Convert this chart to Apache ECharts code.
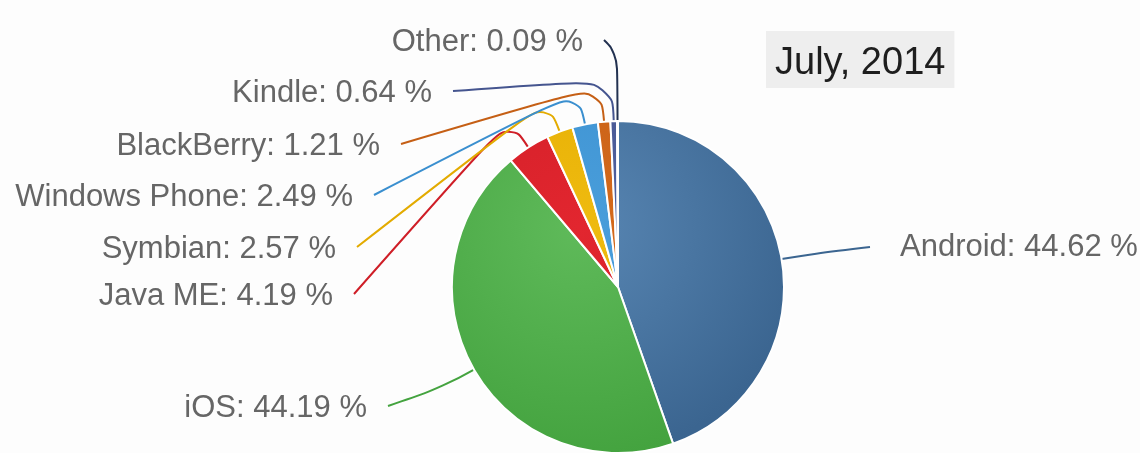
<!DOCTYPE html>
<html>
<head>
<meta charset="utf-8">
<script src="https://cdn.jsdelivr.net/npm/echarts@6/dist/echarts.min.js"></script>
<style>
  html, body { margin: 0; padding: 0; background: #fdfdfd; }
  #chart { width: 1140px; height: 453px; }
</style>
</head>
<body>
<div id="chart"></div>
<script>
// ---- data ----
const categories = ['Android', 'iOS', 'Java ME', 'Symbian', 'Windows Phone', 'BlackBerry', 'Kindle', 'Other'];
const shares = [44.62, 44.19, 4.19, 2.57, 2.49, 1.21, 0.64, 0.09];
const titleText = 'July, 2014';

// ---- styles / layout ----
const sliceColors = [
  ['#5886b3', '#3b6590'],
  ['#5fba5a', '#44a33f'],
  ['#e2262f', '#cf1e27'],
  ['#efbb10', '#e3ab00'],
  ['#4a9edb', '#3a8fcf'],
  ['#d56a1c', '#c55f15'],
  ['#50609f', '#45558f'],
  ['#2a3b60', '#223150']
];
const CX = 618, CY = 287, R = 166;
// label anchor: [x, y, align]
const labelSpots = [
  [900, 247, 'left'],
  [367, 408, 'right'],
  [333, 296, 'right'],
  [336, 249, 'right'],
  [353, 197, 'right'],
  [380, 146, 'right'],
  [432, 93, 'right'],
  [583, 42, 'right']
];
const elbowLens = [35, 35, 35, 35, 35, 37, 42, 68];

const chart = echarts.init(document.getElementById('chart'), null, { renderer: 'canvas' });

const seriesData = categories.map((name, i) => ({
  name,
  value: shares[i],
  itemStyle: {
    color: {
      type: 'radial', x: CX - 40, y: CY - 60, r: R * 1.4, global: true,
      colorStops: [{ offset: 0, color: sliceColors[i][0] }, { offset: 1, color: sliceColors[i][1] }]
    }
  },
  labelLine: { lineStyle: { color: sliceColors[i][1] } }
}));

chart.setOption({
  backgroundColor: '#fdfdfd',
  animation: false,
  title: {
    text: titleText,
    left: 766,
    top: 31,
    padding: [14, 9, 5, 9],
    backgroundColor: '#eeeeee',
    textStyle: {
      fontFamily: 'Liberation Sans, Arial, sans-serif',
      fontSize: 38,
      fontWeight: 'normal',
      color: '#1e1e1e',
      lineHeight: 38
    }
  },
  series: [{
    type: 'pie',
    center: [CX, CY],
    radius: R,
    startAngle: 90,
    clockwise: true,
    avoidLabelOverlap: false,
    itemStyle: { borderColor: '#ffffff', borderWidth: 2 },
    label: {
      show: true,
      position: 'outside',
      formatter: p => p.name + ': ' + p.value.toFixed(2) + ' %',
      fontFamily: 'Liberation Sans, Arial, sans-serif',
      fontSize: 31,
      color: '#666666'
    },
    labelLine: {
      show: true,
      length: 20,
      length2: 20,
      smooth: 0.5,
      lineStyle: { width: 2 }
    },
    labelLayout: function (p) {
      const i = p.dataIndex;
      const s = labelSpots[i];
      const e = p.labelLinePoints ? p.labelLinePoints[0] : [CX, CY - R];
      let dx = e[0] - CX, dy = e[1] - CY;
      const len = Math.sqrt(dx * dx + dy * dy) || 1;
      dx /= len; dy /= len;
      const L = elbowLens[i];
      const elbow = [e[0] + dx * L, e[1] + dy * L];
      const end = s[2] === 'left' ? [s[0] - 30, s[1]] : [s[0] + 21, s[1] - 2];
      return {
        x: s[0],
        y: s[1],
        align: s[2],
        verticalAlign: 'middle',
        labelLinePoints: [e, elbow, end]
      };
    },
    data: seriesData
  }]
});
</script>
</body>
</html>
